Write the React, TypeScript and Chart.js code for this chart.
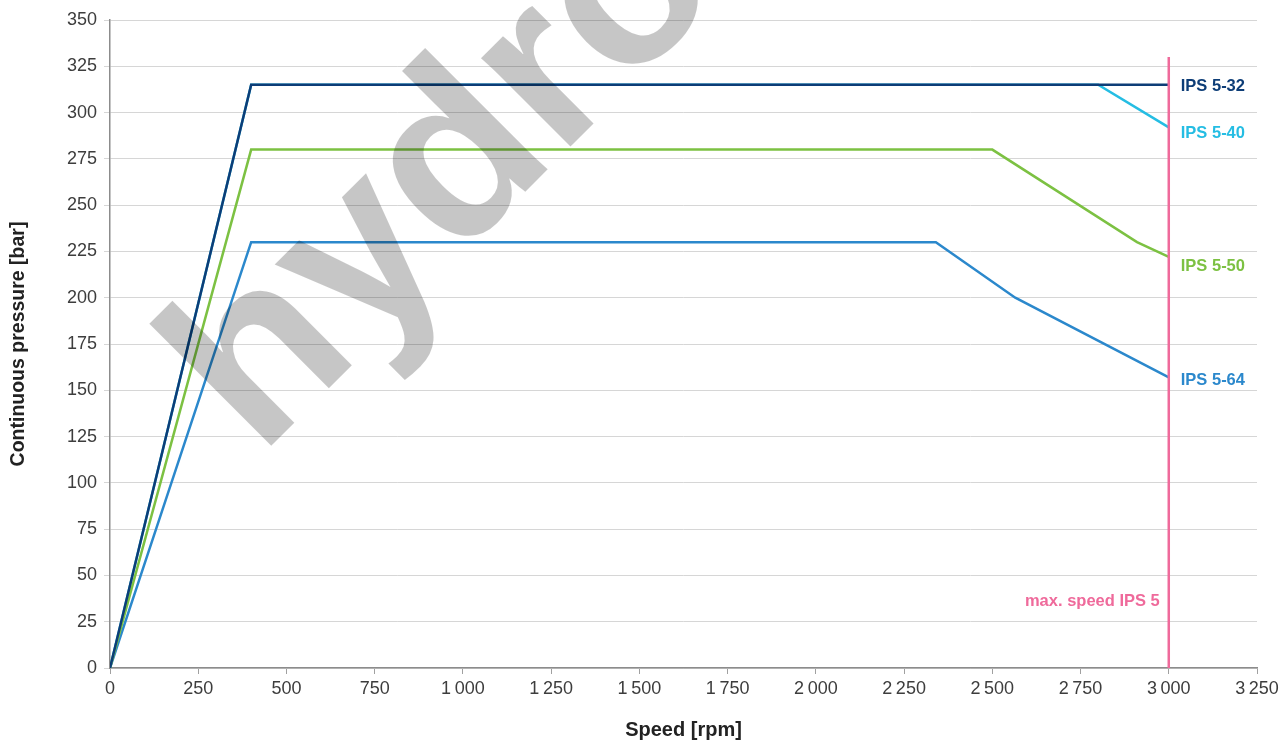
import React, { useEffect, useRef } from 'react';
import { Chart, registerables } from 'chart.js';

Chart.register(...registerables);

// ---- data ----
const speedTicks = [0, 250, 500, 750, 1000, 1250, 1500, 1750, 2000, 2250, 2500, 2750, 3000, 3250];
const speedTickLabels = ['0', '250', '500', '750', '1\u2009000', '1\u2009250', '1\u2009500', '1\u2009750', '2\u2009000', '2\u2009250', '2\u2009500', '2\u2009750', '3\u2009000', '3\u2009250'];

const ips532Speed = [0, 400, 3000];
const ips532Pressure = [0, 315, 315];

const ips540Speed = [0, 400, 2800, 3000];
const ips540Pressure = [0, 315, 315, 292];

const ips550Speed = [0, 400, 2500, 2910, 3000];
const ips550Pressure = [0, 280, 280, 230, 222];

const ips564Speed = [0, 400, 2340, 2565, 3000];
const ips564Pressure = [0, 230, 230, 200, 157];

const maxSpeedX = [3000, 3000];
const maxSpeedY = [0, 330];

const seriesNames = ['IPS 5-32', 'IPS 5-40', 'IPS 5-50', 'IPS 5-64'];
const seriesLabelPressure = [314, 288.5, 217, 155.5];
const maxSpeedLabel = 'max. speed IPS 5';
const maxSpeedLabelPressure = 36;

// ---- styles ----
const NAVY = '#0d3d77';
const CYAN = '#25bde3';
const GREEN = '#7cc142';
const BLUE = '#2b88cc';
const PINK = '#ef6a9b';
const seriesColors = [NAVY, CYAN, GREEN, BLUE];
const FONT = '"Liberation Sans", Arial, Helvetica, sans-serif';

const pts = (xs: number[], ys: number[]) => xs.map((x, i) => ({ x, y: ys[i] }));

const overlayPlugin = {
  id: 'overlay',
  afterDatasetsDraw(chart: any) {
    const { ctx, scales } = chart;
    const x = scales.x;
    const y = scales.y;
    // watermark
    ctx.save();
    ctx.translate(259.5, 457.5);
    ctx.rotate((-45 * Math.PI) / 180);
    ctx.font = `bold 238px ${FONT}`;
    ctx.fillStyle = 'rgba(0,0,0,0.225)';
    ctx.textBaseline = 'alphabetic';
    ctx.textAlign = 'left';
    ctx.fillText('hydro', 0, 0);
    ctx.restore();

    // series labels
    ctx.save();
    ctx.font = `bold 16.5px ${FONT}`;
    ctx.textBaseline = 'middle';
    ctx.textAlign = 'left';
    const px = x.getPixelForValue(3000) + 12;
    seriesNames.forEach((name, i) => {
      ctx.fillStyle = seriesColors[i];
      ctx.fillText(name, px, y.getPixelForValue(seriesLabelPressure[i]));
    });
    ctx.textAlign = 'right';
    ctx.fillStyle = PINK;
    ctx.fillText(maxSpeedLabel, x.getPixelForValue(3000) - 9, y.getPixelForValue(maxSpeedLabelPressure));
    ctx.restore();
  },
};

export default function App() {
  const ref = useRef<HTMLCanvasElement | null>(null);
  useEffect(() => {
    if (!ref.current) return;
    const line = (data: any, color: string) => ({
      data,
      borderColor: color,
      backgroundColor: color,
      borderWidth: 2.5,
      pointRadius: 0,
      tension: 0,
      showLine: true,
      fill: false,
    });
    // Chart.js paints datasets from last to first: first entry ends on top
    const chart = new Chart(ref.current, {
      type: 'scatter',
      data: {
        datasets: [
          { label: maxSpeedLabel, ...line(pts(maxSpeedX, maxSpeedY), PINK) },
          { label: seriesNames[0], ...line(pts(ips532Speed, ips532Pressure), NAVY) },
          { label: seriesNames[2], ...line(pts(ips550Speed, ips550Pressure), GREEN) },
          { label: seriesNames[3], ...line(pts(ips564Speed, ips564Pressure), BLUE) },
          { label: seriesNames[1], ...line(pts(ips540Speed, ips540Pressure), CYAN) },
        ],
      },
      options: {
        animation: false,
        responsive: false,
        devicePixelRatio: 1,
        layout: { padding: { top: 20, right: 29, left: 0, bottom: 0 } },
        plugins: { legend: { display: false }, tooltip: { enabled: false } },
        scales: {
          x: {
            type: 'linear',
            min: 0,
            max: 3250,
            afterBuildTicks: (s: any) => {
              s.ticks = speedTicks.map((v) => ({ value: v }));
            },
            afterFit: (s: any) => {
              s.height = 74;
            },
            grid: { drawOnChartArea: false, drawTicks: true, tickLength: 6, color: '#a0a0a0' },
            border: { color: '#8c8c8c', width: 1.5 },
            ticks: {
              padding: 4,
              maxRotation: 0,
              autoSkip: false,
              color: '#3d3d3d',
              font: { family: FONT, size: 18 },
              callback: (_v: any, i: number) => speedTickLabels[i],
            },
            title: {
              display: true,
              text: 'Speed [rpm]',
              color: '#222',
              font: { family: FONT, size: 20, weight: 'bold' },
              padding: { top: 0, bottom: 0 },
            },
          },
          y: {
            type: 'linear',
            min: 0,
            max: 350,
            afterFit: (s: any) => {
              s.width = 110;
            },
            grid: { color: '#d6d6d6', lineWidth: 1, tickLength: 6 },
            border: { color: '#8c8c8c', width: 1.5 },
            ticks: {
              stepSize: 25,
              padding: 7,
              color: '#3d3d3d',
              font: { family: FONT, size: 18 },
            },
            title: {
              display: true,
              text: 'Continuous pressure [bar]',
              color: '#222',
              font: { family: FONT, size: 19.5, weight: 'bold' },
              padding: { top: 6.5, bottom: 0 },
            },
          },
        },
      },
      plugins: [overlayPlugin],
    } as any);
    return () => chart.destroy();
  }, []);
  return (
    <div style={{ position: 'absolute', left: 0, top: 0, width: 1286, height: 742, background: '#fff' }}>
      <canvas ref={ref} width={1286} height={742} style={{ display: 'block', width: 1286, height: 742 }} />
    </div>
  );
}
